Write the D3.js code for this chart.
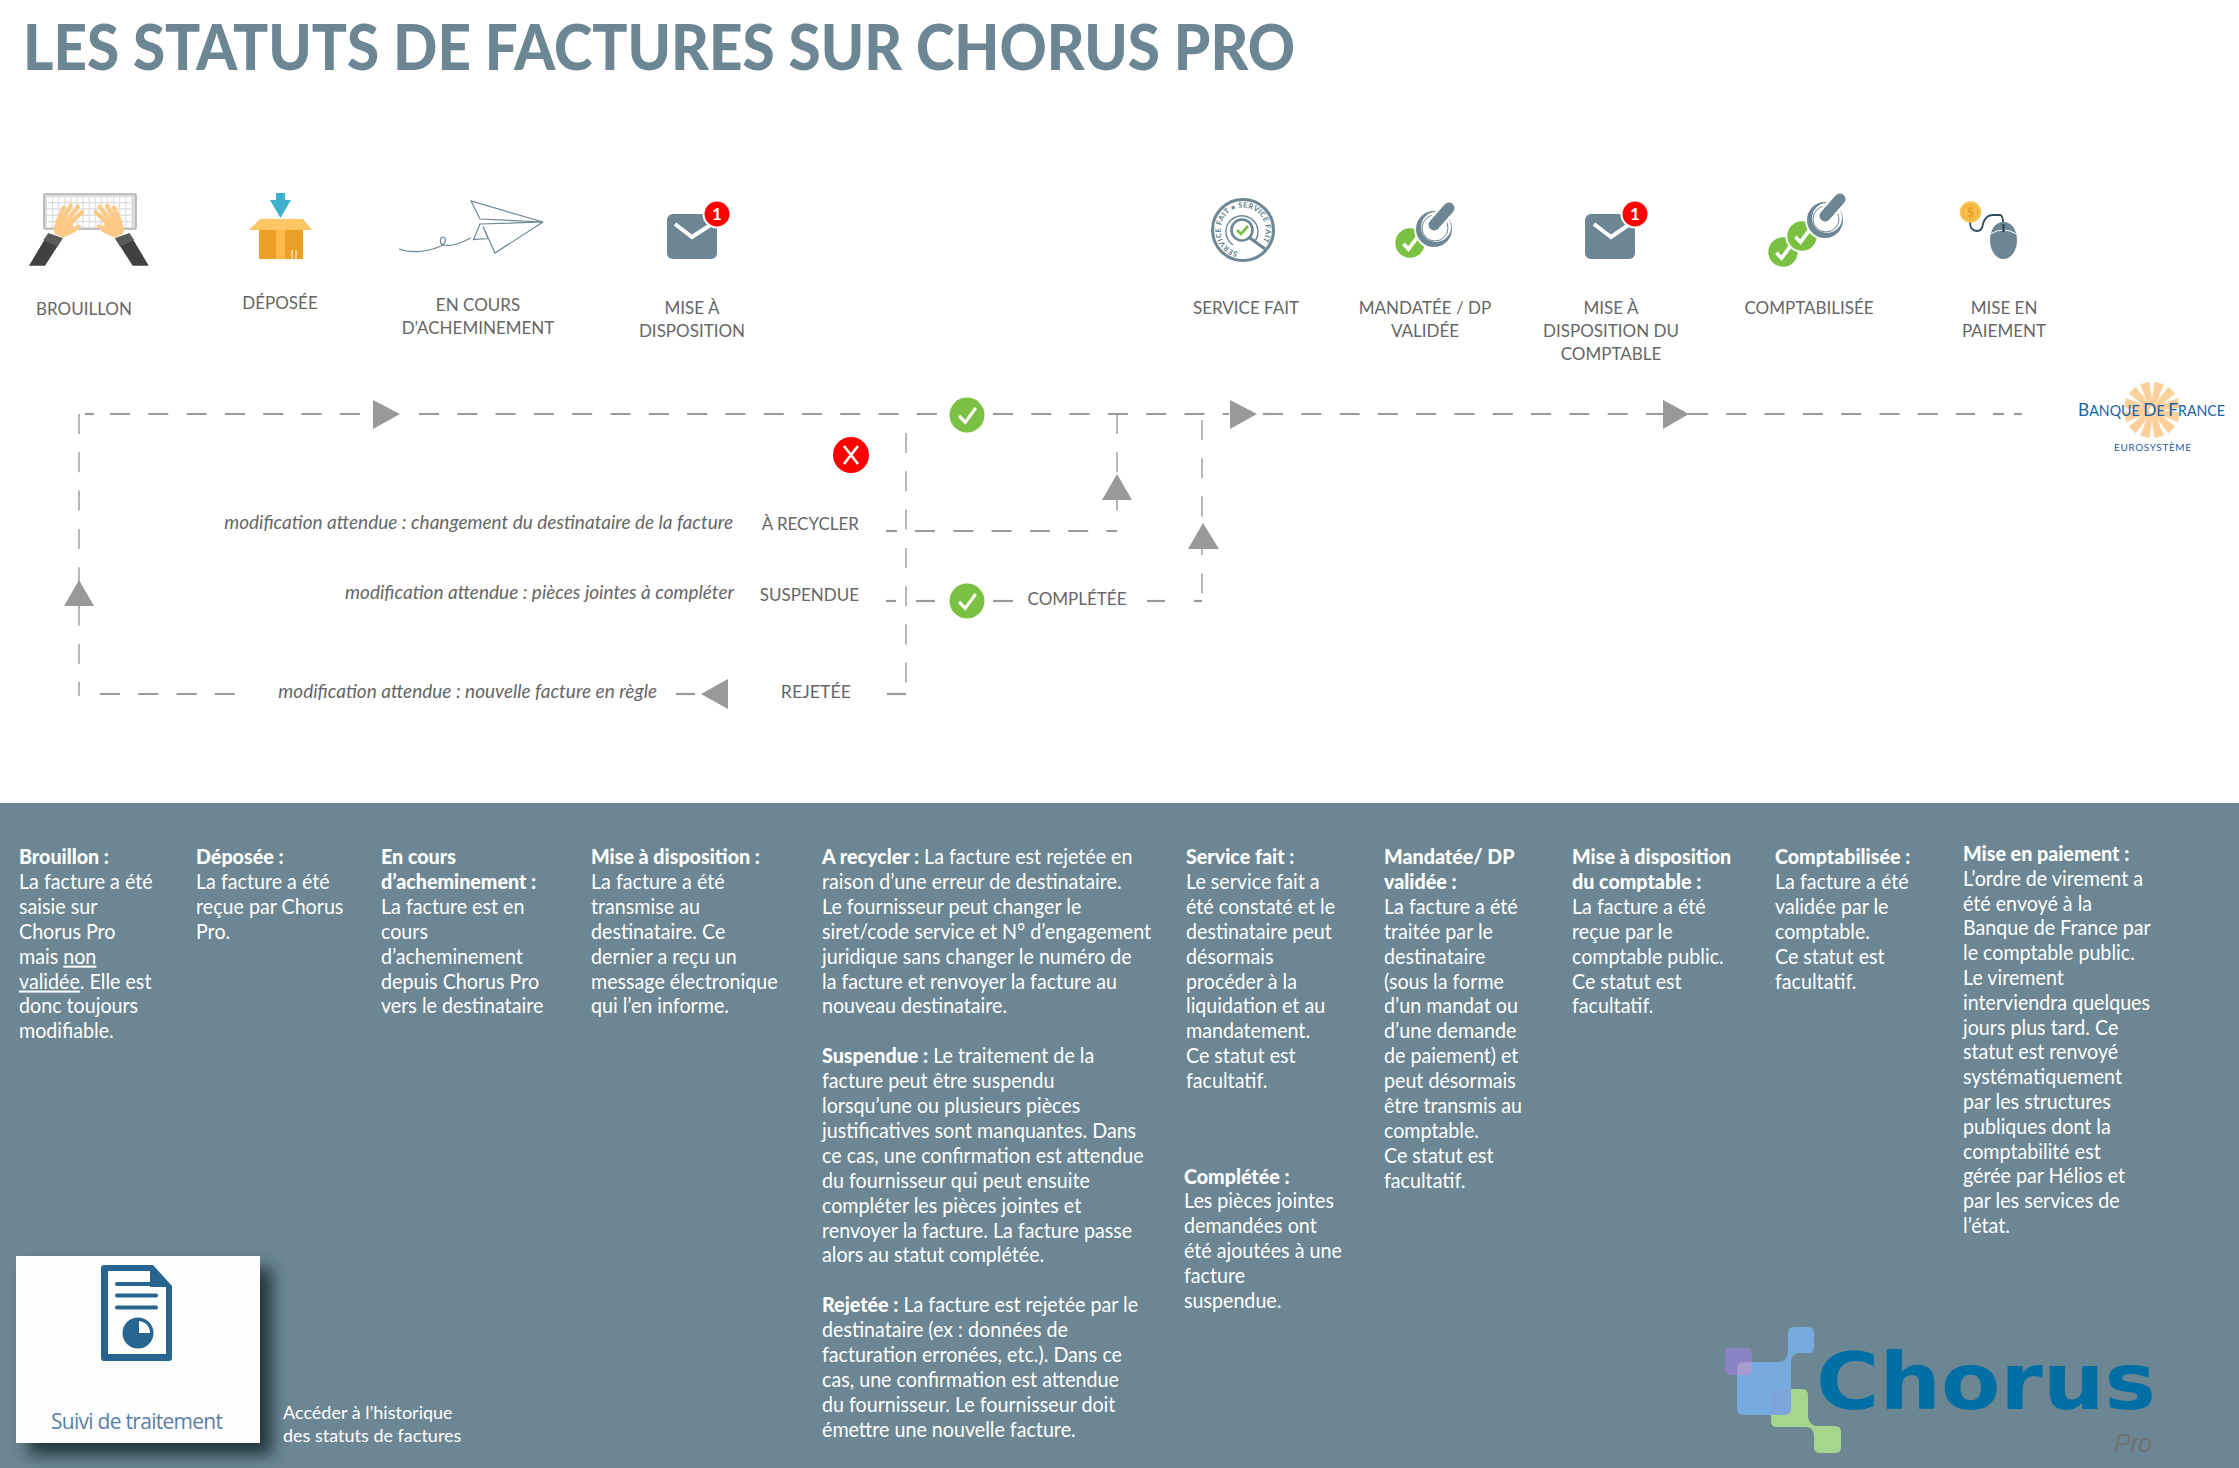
<!DOCTYPE html>
<html lang="fr">
<head>
<meta charset="UTF-8">
<title>Les statuts de factures sur Chorus Pro</title>
<script src="https://d3js.org/d3.v7.min.js"></script>
<style>
  html, body { margin: 0; padding: 0; background: #fff; }
  svg { display: block; }
  text { font-family: Lato, "Noto Sans", sans-serif; }
</style>
</head>
<body>
<div id="chart"></div>
<script>
// --- texts
const titleText = "LES STATUTS DE FACTURES SUR CHORUS PRO";
const statusLabels = [
  ["BROUILLON"], ["DÉPOSÉE"], ["EN COURS", "D’ACHEMINEMENT"], ["MISE À", "DISPOSITION"],
  ["SERVICE FAIT"], ["MANDATÉE / DP", "VALIDÉE"], ["MISE À", "DISPOSITION DU", "COMPTABLE"],
  ["COMPTABILISÉE"], ["MISE EN", "PAIEMENT"]
];
const sideStatuses = ["À RECYCLER", "SUSPENDUE", "REJETÉE"];
const expectedChanges = [
  "modification attendue : changement du destinataire de la facture",
  "modification attendue : pièces jointes à compléter",
  "modification attendue : nouvelle facture en règle"
];
const completedLabel = "COMPLÉTÉE";
const columns = [
  ["**Brouillon :**", "La facture a été", "saisie sur", "Chorus Pro", "mais __non__", "__validée__. Elle est", "donc toujours", "modifiable."],
  ["**Déposée :**", "La facture a été", "reçue par Chorus", "Pro."],
  ["**En cours**", "**d’acheminement :**", "La facture est en", "cours", "d’acheminement", "depuis Chorus Pro", "vers le destinataire"],
  ["**Mise à disposition :**", "La facture a été", "transmise au", "destinataire. Ce", "dernier a reçu un", "message électronique", "qui l’en informe."],
  ["**A recycler :** La facture est rejetée en", "raison d’une erreur de destinataire.", "Le fournisseur peut changer le", "siret/code service et N° d’engagement", "juridique sans changer le numéro de", "la facture et renvoyer la facture au", "nouveau destinataire.", "",
   "**Suspendue :** Le traitement de la", "facture peut être suspendu", "lorsqu’une ou plusieurs pièces", "justificatives sont manquantes. Dans", "ce cas, une confirmation est attendue", "du fournisseur qui peut ensuite", "compléter les pièces jointes et", "renvoyer la facture. La facture passe", "alors au statut complétée.", "",
   "**Rejetée :** La facture est rejetée par le", "destinataire (ex : données de", "facturation erronées, etc.). Dans ce", "cas, une confirmation est attendue", "du fournisseur. Le fournisseur doit", "émettre une nouvelle facture."],
  ["**Service fait :**", "Le service fait a", "été constaté et le", "destinataire peut", "désormais", "procéder à la", "liquidation et au", "mandatement.", "Ce statut est", "facultatif."],
  ["**Complétée :**", "Les pièces jointes", "demandées ont", "été ajoutées à une", "facture", "suspendue."],
  ["**Mandatée/ DP**", "**validée :**", "La facture a été", "traitée par le", "destinataire", "(sous la forme", "d’un mandat ou", "d’une demande", "de paiement) et", "peut désormais", "être transmis au", "comptable.", "Ce statut est", "facultatif."],
  ["**Mise à disposition**", "**du comptable :**", "La facture a été", "reçue par le", "comptable public.", "Ce statut est", "facultatif."],
  ["**Comptabilisée :**", "La facture a été", "validée par le", "comptable.", "Ce statut est", "facultatif."],
  ["**Mise en paiement :**", "L’ordre de virement a", "été envoyé à la", "Banque de France par", "le comptable public.", "Le virement", "interviendra quelques", "jours plus tard. Ce", "statut est renvoyé", "systématiquement", "par les structures", "publiques dont la", "comptabilité est", "gérée par Hélios et", "par les services de", "l’état."]
];
const shortcutLabel = "Suivi de traitement";
const shortcutNote = ["Accéder à l’historique", "des statuts de factures"];

// --- layout, in pixels of the 2239x1468 page
const W = 2239, H = 1468;
const slate = "#6c8793", arrowGrey = "#999", labelGrey = "#666", green = "#7ac143";
const statusX = [84, 280, 478, 692, 1246, 1425, 1611, 1809, 2004];
const statusY = [314.5, 309, 311, 314, 314, 314, 314, 314, 314];
const columnX = [19, 196, 381, 591, 822, 1186, 1184, 1384, 1572, 1775, 1963];
const columnY = [864, 864, 864, 864, 864, 864, 1183.5, 864, 864, 864, 861];
const columnStep = [24.9, 24.9, 24.9, 24.9, 24.9, 24.9, 24.9, 24.9, 24.9, 24.9, 24.8];

const svg = d3.select("#chart").append("svg").attr("width", W).attr("height", H);
const defs = svg.append("defs");
const blur = defs.append("filter").attr("id", "shadow").attr("x", "-20%").attr("y", "-20%").attr("width", "150%").attr("height", "150%");
blur.append("feGaussianBlur").attr("stdDeviation", 8);

svg.append("rect").attr("y", 803).attr("width", W).attr("height", H - 803).attr("fill", slate);
svg.append("text").attr("x", 23).attr("y", 69.5).attr("font-size", 62).attr("font-weight", 900).attr("fill", slate)
  .attr("textLength", 1272).attr("lengthAdjust", "spacingAndGlyphs").text(titleText);

// status captions
statusLabels.forEach((lines, i) => {
  svg.append("g").selectAll("text").data(lines).join("text")
    .attr("x", statusX[i]).attr("y", (d, j) => statusY[i] + j * 23)
    .attr("text-anchor", "middle").attr("font-size", 17).attr("fill", labelGrey).text(d => d);
});

// --- flow lines
const line = d3.line();
function dashed(points, width) {
  svg.append("path").attr("d", line(points)).attr("fill", "none")
    .attr("stroke", arrowGrey).attr("stroke-width", width).attr("stroke-dasharray", "20 18.3");
}
[[85, 94], [110, 361], [419, 937], [993, 1229], [1263, 1663], [1688, 1975], [1993, 2004], [2014, 2022]].forEach(s => dashed([[s[0], 414], [s[1], 414]], 2.2));
dashed([[79, 414], [79, 696]], 1.4);
dashed([[100, 694], [235, 694]], 2.2);
dashed([[676, 694], [695, 694]], 2.2);
dashed([[887, 694], [906, 694]], 2.2);
dashed([[906, 433], [906, 687]], 1.4);
dashed([[886, 531], [897, 531]], 2.2);
dashed([[915, 531], [1117, 531]], 2.2);
dashed([[1117, 414], [1117, 512]], 1.4);
dashed([[886, 601], [896, 601]], 2.2);
dashed([[916, 601], [935, 601]], 2.2);
dashed([[993, 601], [1013, 601]], 2.2);
dashed([[1147, 601], [1165, 601]], 2.2);
dashed([[1194, 601], [1202, 601]], 2.2);
dashed([[1202, 420], [1202, 601]], 1.4);

const arrowHeads = [
  [[373, 400], [373, 429], [400, 414]],
  [[1230, 400], [1230, 429], [1257, 414]],
  [[1663, 400], [1663, 429], [1689, 414]],
  [[64, 606], [94, 606], [79, 580]],
  [[1102, 500], [1132, 500], [1117, 474]],
  [[1188, 549], [1219, 549], [1203, 523]],
  [[728, 679], [728, 709], [701, 694]]
];
svg.append("g").selectAll("path").data(arrowHeads).join("path")
  .attr("d", d => line(d) + "Z").attr("fill", arrowGrey);

function checkBadge(g, cx, cy, r, tick, halo) {
  if (halo) g.append("circle").attr("cx", cx).attr("cy", cy).attr("r", r + 2).attr("fill", "#fff");
  g.append("circle").attr("cx", cx).attr("cy", cy).attr("r", r).attr("fill", green);
  g.append("path").attr("d", line([[cx - r * .45, cy + r * .05], [cx - r * .1, cy + r * .42], [cx + r * .5, cy - r * .4]]))
    .attr("fill", "none").attr("stroke", "#fff").attr("stroke-width", tick);
}
checkBadge(svg, 967, 415, 17.5, 3);
checkBadge(svg, 967, 601, 17.5, 3);
svg.append("circle").attr("cx", 851).attr("cy", 455).attr("r", 18).attr("fill", "#f00");
svg.append("path").attr("d", "M844 446L858 464M858 446L844 464").attr("stroke", "#fff").attr("stroke-width", 2.6).attr("fill", "none");

// labels along the flow
const sideRight = [859, 859, 851], sideY = [529.5, 601, 698];
sideStatuses.forEach((t, i) => {
  svg.append("text").attr("x", sideRight[i]).attr("y", sideY[i]).attr("text-anchor", "end")
    .attr("font-size", i === 2 ? 17.8 : 17).attr("fill", labelGrey).text(t);
});
const changeRight = [733, 734, 657], changeY = [529, 599, 698];
expectedChanges.forEach((t, i) => {
  svg.append("text").attr("x", changeRight[i]).attr("y", changeY[i]).attr("text-anchor", "end")
    .attr("font-size", 19).attr("font-style", "italic").attr("fill", labelGrey).text(t);
});
svg.append("text").attr("x", 1077).attr("y", 605).attr("text-anchor", "middle")
  .attr("font-size", 17).attr("fill", labelGrey).text(completedLabel);

// --- icons
// keyboard and hands
const kb = svg.append("g");
kb.append("rect").attr("x", 44).attr("y", 194).attr("width", 92).attr("height", 35).attr("rx", 1.5)
  .attr("fill", "#dcdcdc").attr("stroke", "#b0b0b0").attr("stroke-width", 1.6);
d3.range(5).forEach(r => d3.range(14).forEach(c => {
  kb.append("rect").attr("x", 47 + c * 6.1).attr("y", 197 + r * 6.3).attr("width", 5).attr("height", 5).attr("fill", "#fff");
}));
const handArm = svg.append("defs").append("g").attr("id", "handArm");
handArm.append("path").attr("d", "M85 145L128 160L75 242H27Z").attr("fill", "#414141");
handArm.append("path").attr("d", "M85 145L128 160L112 185L70 165Z").attr("fill", "#5a5a5a");
handArm.append("path").attr("d", "M100 128L118 95L160 100L160 125L178 118L184 124L165 142L128 158L104 146Z").attr("fill", "#fdca86");
handArm.append("path").attr("d", "M112 112L131 68M128 105L152 62M144 105L174 65M155 110L186 82")
  .attr("stroke", "#fdca86").attr("stroke-width", 13).attr("stroke-linecap", "round");
svg.append("use").attr("href", "#handArm").attr("transform", "translate(20,185) scale(.3333)");
svg.append("use").attr("href", "#handArm").attr("transform", "translate(157.7,185) scale(-.3333,.3333)");

// box
const box = svg.append("g");
box.append("path").attr("d", "M276 193H285V200H291L280.5 218L270 200H276Z").attr("fill", "#3eb1cc");
box.append("rect").attr("x", 259).attr("y", 230).attr("width", 44).attr("height", 29).attr("fill", "#eba025");
box.append("rect").attr("x", 276).attr("y", 230).attr("width", 9).attr("height", 29).attr("fill", "#ffb94d");
box.append("path").attr("d", "M260 219H303L312 230H249Z").attr("fill", "#ffc666");
box.append("path").attr("d", "M292 259V250M296 259V250").attr("stroke", "#fff").attr("stroke-width", 1);

// paper plane
svg.append("path")
  .attr("d", "M543 222L471 201L480 219L543 222L480 224L473.5 239.5L488 238.5L483 226.5L495 253L543 222M399 249C409 253 425 253 441 246C447 243 446 237 443 237C440 237 439 243 443 245C453 247 462 242 471 238")
  .attr("fill", "none").attr("stroke", slate).attr("stroke-width", 1.2);

// envelopes with their badge
function envelope(x, checkPts) {
  const g = svg.append("g");
  g.append("rect").attr("x", x).attr("y", 214).attr("width", 50).attr("height", 45).attr("rx", 6).attr("fill", slate);
  g.append("path").attr("d", line(checkPts)).attr("fill", "none").attr("stroke", "#fff").attr("stroke-width", 4);
  g.append("circle").attr("cx", x + 50).attr("cy", 214).attr("r", 14.5).attr("fill", "#fff");
  g.append("circle").attr("cx", x + 50).attr("cy", 214).attr("r", 12.5).attr("fill", "#f00");
  g.append("text").attr("x", x + 50).attr("y", 220).attr("text-anchor", "middle").attr("font-size", 17)
    .attr("font-weight", 700).attr("fill", "#fff").text("1");
}
envelope(667, [[675, 224], [692, 237], [712, 224]]);
envelope(1585, [[1594, 224], [1611, 237], [1630, 224]]);

// service fait stamp
const stamp = svg.append("g");
stamp.append("circle").attr("cx", 1243).attr("cy", 230).attr("r", 30.5).attr("fill", "none").attr("stroke", slate).attr("stroke-width", 3);
defs.append("path").attr("id", "stampArc").attr("d", "M1238 252A22.5 22.5 0 1 1 1258 247");
stamp.append("text").attr("font-size", 7.5).attr("font-weight", 900).attr("fill", slate)
  .append("textPath").attr("href", "#stampArc").attr("textLength", 112).text("SERVICE FAIT • SERVICE FAIT");
stamp.append("path").attr("d", "M1233 245A16 16 0 1 1 1255 241").attr("fill", "none").attr("stroke", slate).attr("stroke-width", 1.4);
stamp.append("circle").attr("cx", 1242).attr("cy", 230).attr("r", 10.5).attr("fill", "none").attr("stroke", slate).attr("stroke-width", 2.6);
stamp.append("path").attr("d", "M1250 238L1265 249").attr("stroke", slate).attr("stroke-width", 3.2);
stamp.append("path").attr("d", "M1237 230L1241 234L1248 226").attr("fill", "none").attr("stroke", green).attr("stroke-width", 2.8);

// validation stamps
function validator(cx, cy) {
  const g = svg.append("g");
  g.append("circle").attr("cx", cx).attr("cy", cy).attr("r", 20).attr("fill", "#fff");
  g.append("circle").attr("cx", cx).attr("cy", cy).attr("r", 18).attr("fill", slate);
  g.append("circle").attr("cx", cx + 2).attr("cy", cy - 2).attr("r", 15).attr("fill", "#fff");
  g.append("circle").attr("cx", cx + 1).attr("cy", cy - 1).attr("r", 13).attr("fill", "none").attr("stroke", slate).attr("stroke-width", 1);
  const handle = [[cx, cy - 4], [cx + 15, cy - 21]];
  g.append("path").attr("d", line(handle)).attr("stroke", "#fff").attr("stroke-width", 16).attr("stroke-linecap", "round");
  g.append("path").attr("d", line(handle)).attr("stroke", slate).attr("stroke-width", 11).attr("stroke-linecap", "round");
}
checkBadge(svg, 1410, 243, 14.7, 3.6);
validator(1434, 229);
checkBadge(svg, 1783, 252, 14.7, 3.6);
checkBadge(svg, 1802, 236, 14.7, 3.6, true);
validator(1825, 220);

// mouse and coin
const mouse = svg.append("g");
mouse.append("path").attr("d", "M1970 222Q1970 231 1977 231Q1982 231 1983 224Q1985 216 1992 215L2000 215Q2003 215 2003 224")
  .attr("fill", "none").attr("stroke", "#2f4b62").attr("stroke-width", 1.8);
mouse.append("path").attr("d", "M2003.5 222C2012 222 2017 230 2017 240C2017 251 2011 259 2003.5 259C1996 259 1990 251 1990 240C1990 230 1995 222 2003.5 222Z").attr("fill", slate);
mouse.append("path").attr("d", "M1990.5 234Q2003 226 2016.5 234").attr("fill", "none").attr("stroke", "#fff").attr("stroke-width", 1);
mouse.append("path").attr("d", "M2003.5 224V232").attr("stroke", "#2f4b62").attr("stroke-width", 2.4);
mouse.append("circle").attr("cx", 1970.5).attr("cy", 212).attr("r", 10.7).attr("fill", "#fbc04f");
mouse.append("circle").attr("cx", 1970.5).attr("cy", 212).attr("r", 7.5).attr("fill", "none").attr("stroke", "#f0a92e").attr("stroke-width", 1);
mouse.append("text").attr("x", 1970.5).attr("y", 217).attr("text-anchor", "middle").attr("font-size", 14).attr("font-weight", 700).attr("fill", "#eba025").text("$");

// Banque de France logo
const bdf = svg.append("g").attr("transform", "translate(2152,410)");
bdf.selectAll("path").data(d3.range(12)).join("path")
  .attr("d", "M-2 -3L-4.8 -28H4.8L2 -3Z").attr("fill", "#fcd09a")
  .attr("transform", d => `rotate(${d * 30 + 15})`);
const bankName = svg.append("text").attr("transform", "translate(2078,415.5) scale(.96,1)").attr("fill", "#1a5fa8").attr("font-size", 14.8);
[["B", 18], ["ANQUE ", 14.8], ["D", 18], ["E ", 14.8], ["F", 18], ["RANCE", 14.8]].forEach(r => {
  bankName.append("tspan").attr("font-size", r[1]).text(r[0]);
});
svg.append("text").attr("x", 2114).attr("y", 450.5).attr("font-size", 10).attr("fill", "#1a5fa8")
  .attr("textLength", 77).text("EUROSYSTÈME");

// --- text columns: **bold** and __underlined__ runs become tspans
function runs(s) {
  return s.split(/(\*\*.+?\*\*|__.+?__)/).filter(p => p !== "").map(p => {
    if (p.startsWith("**")) return { t: p.slice(2, -2), bold: true };
    if (p.startsWith("__")) return { t: p.slice(2, -2), under: true };
    return { t: p };
  });
}
const panel = svg.append("g").attr("fill", "#fff").attr("font-size", 20.5);
columns.forEach((lines, i) => {
  lines.forEach((l, j) => {
    panel.append("text")
      .attr("transform", `translate(${columnX[i]},${columnY[i] + j * columnStep[i]}) scale(.96,1)`)
      .selectAll("tspan").data(runs(l)).join("tspan")
      .attr("font-weight", d => d.bold ? 900 : 400)
      .attr("text-decoration", d => d.under ? "underline" : null)
      .text(d => d.t);
  });
});

// --- "Suivi de traitement" tile
svg.append("rect").attr("x", 28).attr("y", 1268).attr("width", 244).attr("height", 187)
  .attr("fill", "#22343d").attr("filter", "url(#shadow)");
svg.append("rect").attr("x", 16).attr("y", 1256).attr("width", 244).attr("height", 187).attr("fill", "#fdfdfd");
const doc = svg.append("g");
doc.append("path").attr("d", "M104 1265H153L172 1286V1358Q172 1361 169 1361H104Q101 1361 101 1358V1268Q101 1265 104 1265Z").attr("fill", "#27648f");
doc.append("path").attr("d", "M108 1271H150V1287H166V1354H108Z").attr("fill", "#fdfdfd");
doc.append("path").attr("d", "M117 1284H156M117 1295.5H156M117 1307.5H156").attr("stroke", "#27648f").attr("stroke-width", 4).attr("stroke-linecap", "round");
doc.append("circle").attr("cx", 138).attr("cy", 1333).attr("r", 15.5).attr("fill", "#27648f");
doc.append("path").attr("d", "M139 1321A12 12 0 0 1 150 1333H139Z").attr("fill", "#fdfdfd");
svg.append("text").attr("x", 137).attr("y", 1429).attr("text-anchor", "middle").attr("font-size", 21)
  .attr("fill", "#5b7fa6").style("font-family", "'Open Sans'").attr("textLength", 172).text(shortcutLabel);
svg.append("g").selectAll("text").data(shortcutNote).join("text")
  .attr("x", 283).attr("y", (d, i) => 1419 + i * 23).attr("font-size", 18).attr("fill", "#fff").text(d => d);

// --- Chorus logo
const logo = svg.append("g");
logo.append("path").attr("d", "M1744 1362H1778Q1787 1362 1788 1352V1333Q1788 1327 1794 1327H1808Q1814 1327 1814 1333V1347Q1814 1353 1808 1353H1798Q1791 1354 1791 1362V1408Q1791 1415 1784 1415H1744Q1737 1415 1737 1408V1369Q1737 1362 1744 1362Z").attr("fill", "#77abdf");
logo.append("path").attr("d", "M1771 1395Q1771 1389 1777 1389H1802Q1808 1389 1808 1395V1415Q1808 1423 1815 1426H1835Q1841 1426 1841 1432V1447Q1841 1453 1835 1453H1820Q1814 1453 1814 1447V1436Q1814 1427 1805 1427H1777Q1771 1427 1771 1421Z").attr("fill", "#a6d58d");
logo.append("path").attr("d", "M1777 1389H1791V1408Q1791 1415 1784 1415H1771V1395Q1771 1389 1777 1389Z").attr("fill", "#7ea5da");
logo.append("rect").attr("x", 1725).attr("y", 1348).attr("width", 27).attr("height", 27).attr("rx", 5).attr("fill", "#8b84c4");
logo.append("path").attr("d", "M1737 1375V1369Q1737 1362 1744 1362H1752V1370Q1752 1375 1747 1375Z").attr("fill", "#a79bd0");
svg.append("text").attr("x", 1816).attr("y", 1409).attr("font-size", 78).attr("font-weight", 700)
  .style("font-family", "'DejaVu Sans'").attr("fill", "#006fa3")
  .attr("textLength", 340).attr("lengthAdjust", "spacingAndGlyphs").text("Chorus");
svg.append("text").attr("x", 2114).attr("y", 1452).attr("font-size", 25).attr("font-style", "italic")
  .style("font-family", "'Liberation Sans'").attr("fill", "#6f7275").attr("textLength", 38).text("Pro");
</script>
</body>
</html>
